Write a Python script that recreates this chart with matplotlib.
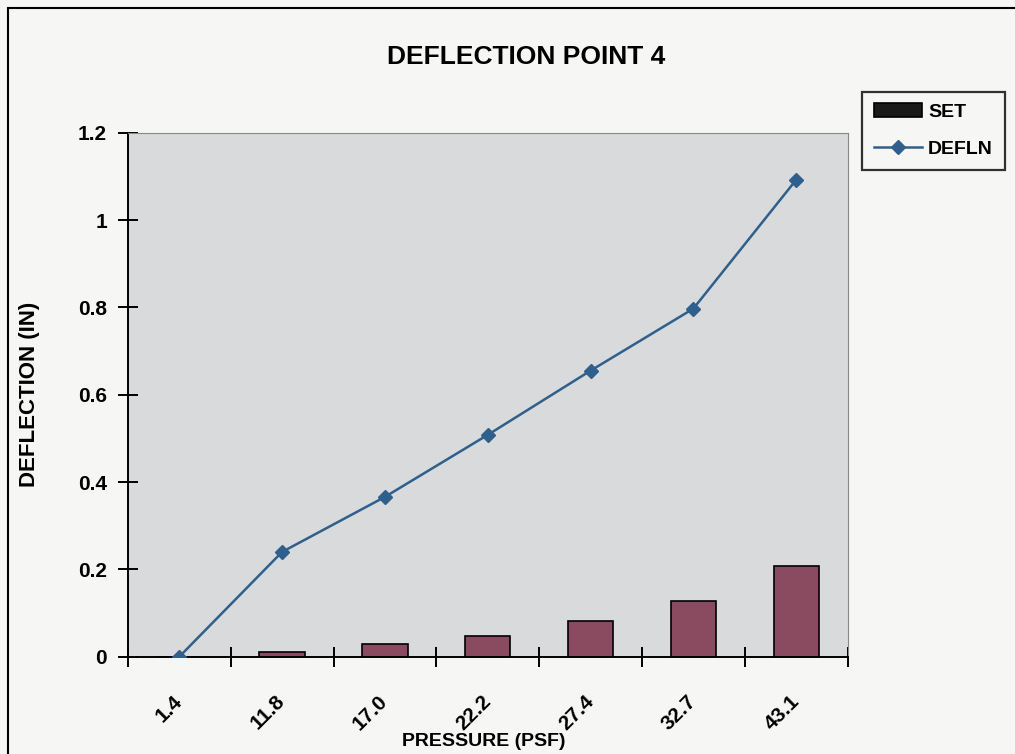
import numpy as np
import matplotlib.pyplot as plt
from matplotlib.patches import Rectangle

plt.rcParams['font.family'] = ['Liberation Sans', 'DejaVu Sans']
plt.rcParams['font.weight'] = 'bold'

# Messdaten
pressure = ['1.4', '11.8', '17.0', '22.2', '27.4', '32.7', '43.1']
set_vals = [0.0, 0.011, 0.030, 0.048, 0.082, 0.128, 0.208]
defln = [0.0, 0.240, 0.366, 0.508, 0.655, 0.797, 1.092]

fig = plt.figure(figsize=(10.15, 7.54), dpi=100, facecolor='#f6f6f4')
ax = fig.add_axes([0.126, 0.129, 0.709, 0.695])
ax.set_facecolor('#d9dadb')

x = np.arange(len(pressure))
bars = ax.bar(x, set_vals, width=0.44, color='#8a4a5f', edgecolor='black', linewidth=1.2, label='SET', zorder=2)
line, = ax.plot(x, defln, color='#2f5f8c', lw=1.8, marker='D', ms=7, mfc='#2f5f8c', mec='#2f5f8c', label='DEFLN', zorder=3)

ax.set_xlim(-0.5, len(pressure) - 0.5)
ax.set_ylim(0, 1.2)
ax.set_yticks(np.arange(0, 1.21, 0.2))
ax.set_yticklabels(['0', '0.2', '0.4', '0.6', '0.8', '1', '1.2'], fontsize=15, fontweight='bold')

# Kategorien-Beschriftung: rechtes Ende am Kategorienmittelpunkt, Striche an den Grenzen
ax.set_xticks(x)
ax.set_xticklabels(pressure, rotation=45, fontsize=15, fontweight='bold',
                   ha='right', va='center', rotation_mode='anchor')
ax.tick_params(axis='x', which='major', length=0, pad=30)
ax.set_xticks(np.arange(-0.5, len(pressure)), minor=True)
ax.tick_params(axis='x', which='minor', direction='inout', length=14, width=1.4)
ax.tick_params(axis='y', direction='inout', length=14, width=1.4, pad=8)

for s in ['top', 'right']:
    ax.spines[s].set_color('#888888')
for s in ['left', 'bottom']:
    ax.spines[s].set_linewidth(1.4)

ax.set_ylabel('DEFLECTION (IN)', fontsize=16, fontweight='bold')
ax.yaxis.set_label_coords(-0.122, 0.5)
ax.set_xlabel('PRESSURE (PSF)', fontsize=14, fontweight='bold')
ax.xaxis.set_label_coords(0.494, -0.145)
fig.text(0.518, 0.924, 'DEFLECTION POINT 4', ha='center', va='center', fontsize=19, fontweight='bold')

leg = ax.legend([bars, line], ['SET', 'DEFLN'], loc='upper left', bbox_to_anchor=(1.02, 1.078),
                prop={'size': 14, 'weight': 'bold'}, frameon=True, fancybox=False, edgecolor='black',
                handlelength=2.5, borderpad=0.6, labelspacing=1.0, handletextpad=0.3, borderaxespad=0)
leg.get_frame().set_linewidth(1.6)
leg.get_frame().set_facecolor('#f6f6f4')
leg.legend_handles[0].set_facecolor('#1a1a1a')

# Rahmen um das ganze Diagramm
fig.patches.append(Rectangle((0.008, -0.05), 1.1, 1.04, transform=fig.transFigure,
                             fill=False, edgecolor='black', lw=1.5))

plt.savefig('out.png', dpi=100, facecolor=fig.get_facecolor())
